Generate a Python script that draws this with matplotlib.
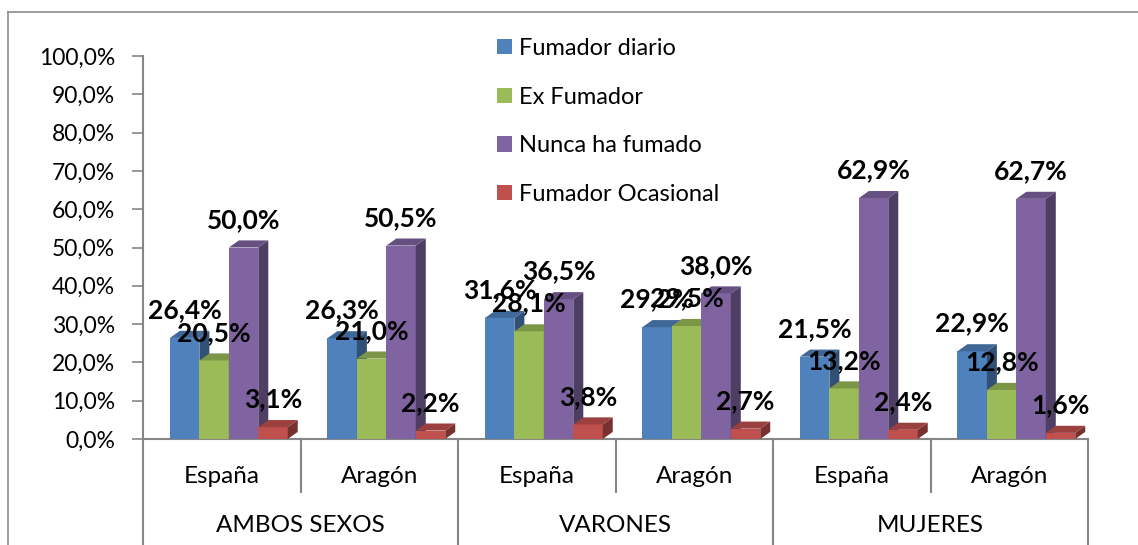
import matplotlib
matplotlib.use("Agg")
import matplotlib.pyplot as plt
from matplotlib.patches import Polygon, Patch
from matplotlib.lines import Line2D
import matplotlib.colors as mcolors
import numpy as np

# ---- data ----
subcategories = ["España", "Aragón", "España", "Aragón", "España", "Aragón"]
groups = ["AMBOS SEXOS", "VARONES", "MUJERES"]
series_names = ["Fumador diario", "Ex Fumador", "Nunca ha fumado", "Fumador Ocasional"]
fumador_diario = [26.4, 26.3, 31.6, 29.2, 21.5, 22.9]
ex_fumador = [20.5, 21.0, 28.1, 29.5, 13.2, 12.8]
nunca_ha_fumado = [50.0, 50.5, 36.5, 38.0, 62.9, 62.7]
fumador_ocasional = [3.1, 2.2, 3.8, 2.7, 2.4, 1.6]
yticks = [0, 10, 20, 30, 40, 50, 60, 70, 80, 90, 100]

series = [fumador_diario, ex_fumador, nunca_ha_fumado, fumador_ocasional]
colors = ["#4F81BD", "#9BBB59", "#8064A2", "#C0504D"]

FONT = "Lato"
plt.rcParams["font.family"] = [FONT, "DejaVu Sans"]

W, H = 1138, 545
fig = plt.figure(figsize=(W / 100, H / 100), dpi=100)
ax_left, ax_right = 143 / W, 1088 / W
ax_bottom, ax_top = (H - 439) / H, (H - 56) / H
ax = fig.add_axes([ax_left, ax_bottom, ax_right - ax_left, ax_top - ax_bottom])
ax.set_xlim(0, 6)
ax.set_ylim(0, 100)

n_cat = len(subcategories)
offset = 0.171
bw = 0.187
ddx = 0.0635   # depth offset x (data units)
ddy = 1.85     # depth offset y (data units)


def shade(c, f):
    r, g, b = mcolors.to_rgb(c)
    return (r * f, g * f, b * f)


for i in range(n_cat):
    for j, vals in enumerate(series):
        v = vals[i]
        x0 = i + offset + j * bw
        x1 = x0 + bw
        c = colors[j]
        ax.bar(x0, v, width=bw, align="edge", color=c, edgecolor="none", zorder=3 + i * 10 + j * 2)
        side = Polygon([(x1, 0), (x1 + ddx, ddy), (x1 + ddx, v + ddy), (x1, v)],
                       closed=True, facecolor=shade(c, 0.62), edgecolor="none",
                       zorder=3 + i * 10 + j * 2)
        top = Polygon([(x0, v), (x0 + ddx, v + ddy), (x1 + ddx, v + ddy), (x1, v)],
                      closed=True, facecolor=shade(c, 0.8), edgecolor="none",
                      zorder=3 + i * 10 + j * 2 + 1)
        ax.add_patch(side)
        ax.add_patch(top)

# data labels
for i in range(n_cat):
    for j, vals in enumerate(series):
        v = vals[i]
        xc = i + offset + j * bw + bw / 2
        ax.annotate(f"{v:.1f}%".replace(".", ","), (xc, v), xytext=(0, 20),
                    textcoords="offset points", ha="center", va="center",
                    fontsize=19, fontweight="bold", color="black", zorder=200,
                    family=[FONT, "DejaVu Sans"])

# axes styling
axis_color = "#868686"
for s in ["top", "right"]:
    ax.spines[s].set_visible(False)
ax.spines["left"].set_color(axis_color)
ax.spines["bottom"].set_color(axis_color)
ax.spines["left"].set_linewidth(1.5)
ax.spines["bottom"].set_linewidth(1.5)
ax.set_yticks(yticks)
ax.set_yticklabels([f"{t:.1f}%".replace(".", ",") for t in yticks])
ax.tick_params(axis="y", direction="out", length=8, width=1.2, color=axis_color,
               pad=12, labelsize=16.5, labelcolor="black")
ax.set_xticks([])

# category axis labels and dividers
trans = ax.get_xaxis_transform()
for i, lab in enumerate(subcategories):
    ax.text(i + 0.5, -0.097, lab, transform=trans, ha="center", va="center",
            fontsize=17.5, color="black")
for g, lab in enumerate(groups):
    ax.text(2 * g + 1, -0.227, lab, transform=trans, ha="center", va="center",
            fontsize=17.5, color="black")
for k in range(0, n_cat + 1):
    ybot = -0.277 if k % 2 == 0 else -0.138
    ax.add_line(Line2D([k, k], [0, ybot], transform=trans, color=axis_color,
                       linewidth=1.5, clip_on=False))

# outer border (partially cropped)
fig.add_artist(Line2D([8 / W, 1], [1 - 12 / H, 1 - 12 / H], transform=fig.transFigure,
                      color="#8c8c8c", linewidth=1.2))
fig.add_artist(Line2D([8 / W, 8 / W], [1 - 12 / H, 0], transform=fig.transFigure,
                      color="#8c8c8c", linewidth=1.2))

# legend
handles = [Patch(facecolor=c, edgecolor="none") for c in colors]
fig.legend(handles, series_names, loc="upper left",
           bbox_to_anchor=(497 / W, 1 - 38 / H), frameon=False, fontsize=17,
           handlelength=0.62, handleheight=0.62, handletextpad=0.3,
           labelspacing=1.17, borderaxespad=0, borderpad=0)

fig.savefig("out.png", dpi=100)
